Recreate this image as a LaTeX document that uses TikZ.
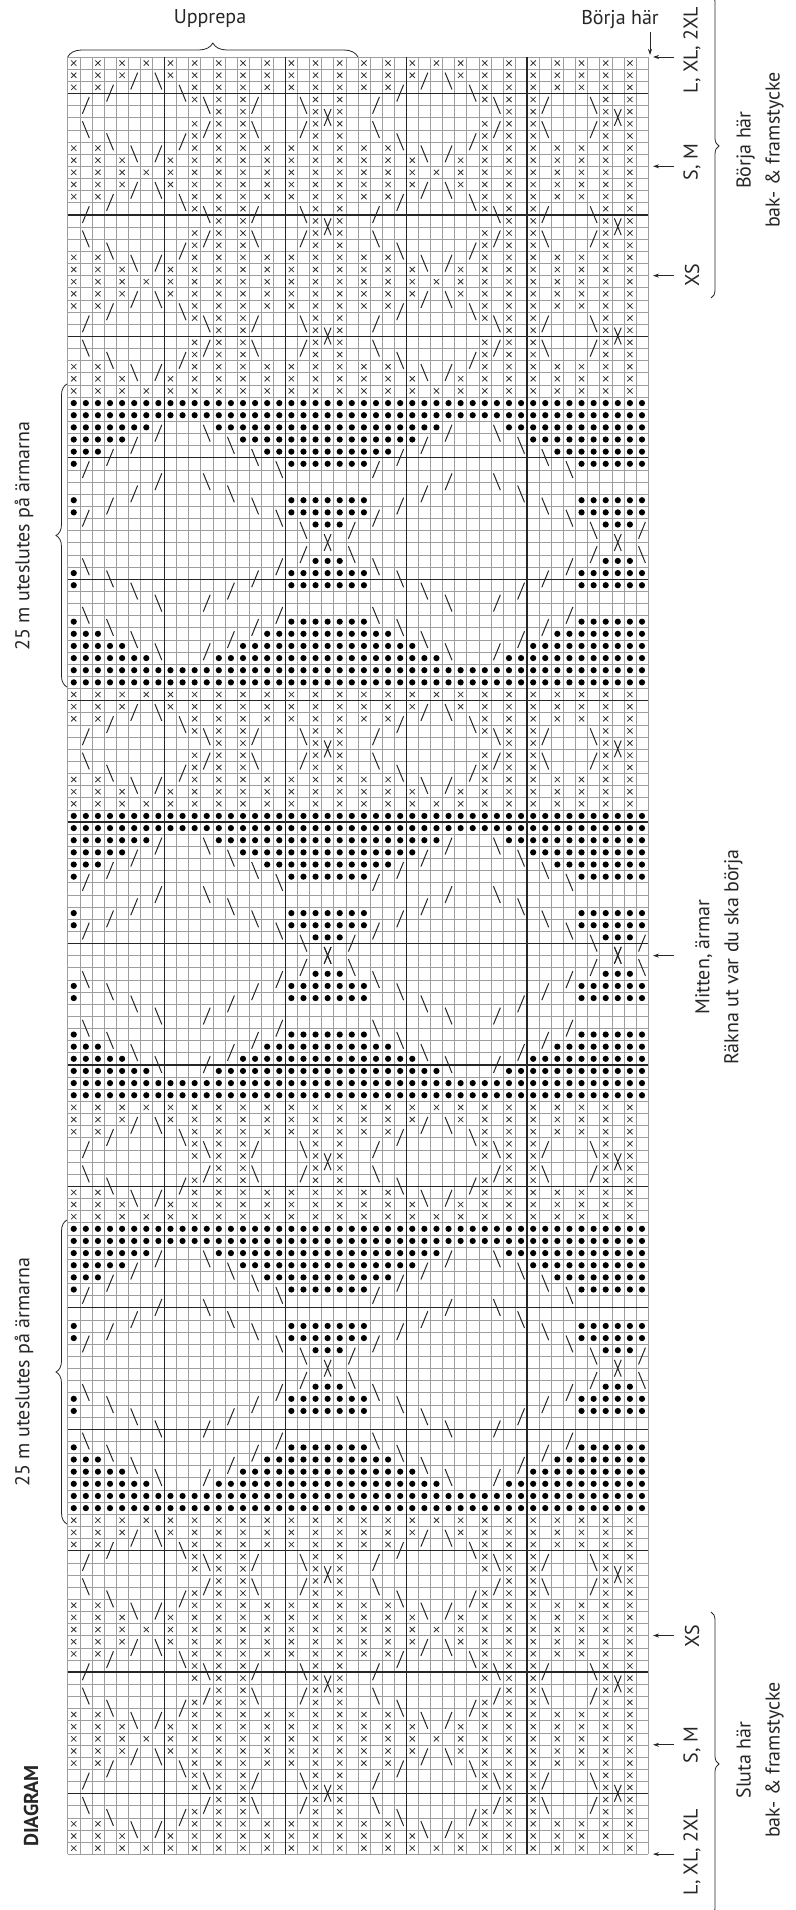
\documentclass[tikz,border=0pt]{standalone}
\usepackage{fontspec}
\setmainfont{PT Sans}
\usetikzlibrary{decorations.pathreplacing,arrows.meta}
\newcommand\cw{12.09}
\newcommand\rh{12.143}
\tikzset{
  kcx/.style={line width=0.8pt, black!80},
  kco/.style={fill=black},
  kcs/.style={line width=1.0pt, black!85},
  gridthin/.style={line width=0.5pt, black!38},
  gridthick/.style={line width=1.3pt, black!85},
  lbl/.style={font=\fontsize{20}{29}\selectfont, text=black!85, inner sep=0pt},
  arr/.style={-{Stealth[length=6pt,width=4pt]}, line width=0.9pt, black!85},
  brc/.style={decorate, decoration={brace, amplitude=#1}, line width=0.8pt, black!85},
}
\ExplSyntaxOn
\int_new:N \l_kc_col_int
\tl_new:N \l_kc_x_tl
\tl_new:N \l_kc_o_tl
\tl_new:N \l_kc_s_tl
\bool_new:N \l_kc_flip_bool
\cs_new_protected:Npn \kc_addx:nn #1 #2
 {
  \int_step_inline:nnnn {0}{24}{24}
   {
    \tl_put_right:Nx \l_kc_x_tl
     {
      ( \fp_eval:n {(#1+##1+0.5)*\cw-2.6} , \fp_eval:n {(#2+0.5)*\rh-2.6} ) --
      ( \fp_eval:n {(#1+##1+0.5)*\cw+2.6} , \fp_eval:n {(#2+0.5)*\rh+2.6} ) ~
      ( \fp_eval:n {(#1+##1+0.5)*\cw-2.6} , \fp_eval:n {(#2+0.5)*\rh+2.6} ) --
      ( \fp_eval:n {(#1+##1+0.5)*\cw+2.6} , \fp_eval:n {(#2+0.5)*\rh-2.6} ) ~
     }
   }
 }
\cs_new_protected:Npn \kc_addo:nn #1 #2
 {
  \int_step_inline:nnnn {0}{24}{24}
   {
    \tl_put_right:Nx \l_kc_o_tl
     { ( \fp_eval:n {(#1+##1+0.5)*\cw} , \fp_eval:n {(#2+0.5)*\rh} ) ~ circle ~ [radius=3.1pt] ~ }
   }
 }
\cs_new_protected:Npn \kc_adds:nnn #1 #2 #3
 {
  \int_step_inline:nnnn {0}{24}{24}
   {
    \str_if_eq:nnTF {#3}{u}
     {
      \tl_put_right:Nx \l_kc_s_tl
       { ( \fp_eval:n {(#1+##1)*\cw+2.6} , \fp_eval:n {(#2+2)*\rh-4} ) --
         ( \fp_eval:n {(#1+##1+1)*\cw-2.6} , \fp_eval:n {(#2)*\rh+3.5} ) ~ }
     }
     {
      \tl_put_right:Nx \l_kc_s_tl
       { ( \fp_eval:n {(#1+##1)*\cw+2.6} , \fp_eval:n {(#2)*\rh+3.5} ) --
         ( \fp_eval:n {(#1+##1+1)*\cw-2.6} , \fp_eval:n {(#2+2)*\rh-4} ) ~ }
     }
   }
 }
\cs_new_protected:Npn \kc_row:nn #1 #2
 {
  \tl_clear:N \l_kc_x_tl
  \tl_clear:N \l_kc_o_tl
  \tl_clear:N \l_kc_s_tl
  \int_zero:N \l_kc_col_int
  \str_map_inline:nn {#2}
   {
    \str_case:nn {##1}
     {
      {x}{ \kc_addx:nn {\int_use:N \l_kc_col_int}{#1} }
      {o}{ \kc_addo:nn {\int_use:N \l_kc_col_int}{#1} }
      {u}{ \bool_if:NTF \l_kc_flip_bool
            { \kc_adds:nnn {\int_use:N \l_kc_col_int}{\int_eval:n{#1-1}}{d} }
            { \kc_adds:nnn {\int_use:N \l_kc_col_int}{#1}{u} } }
      {d}{ \bool_if:NTF \l_kc_flip_bool
            { \kc_adds:nnn {\int_use:N \l_kc_col_int}{\int_eval:n{#1-1}}{u} }
            { \kc_adds:nnn {\int_use:N \l_kc_col_int}{#1}{d} } }
      {k}{ \bool_if:NTF \l_kc_flip_bool
            { \kc_adds:nnn {\int_use:N \l_kc_col_int}{\int_eval:n{#1-1}}{u}
              \kc_adds:nnn {\int_use:N \l_kc_col_int}{\int_eval:n{#1-1}}{d} }
            { \kc_adds:nnn {\int_use:N \l_kc_col_int}{#1}{u}
              \kc_adds:nnn {\int_use:N \l_kc_col_int}{#1}{d} } }
     }
    \int_incr:N \l_kc_col_int
   }
  \tl_if_empty:NF \l_kc_x_tl { \use:x { \exp_not:N \draw [kcx] \l_kc_x_tl ; } }
  \tl_if_empty:NF \l_kc_o_tl { \use:x { \exp_not:N \fill [kco] \l_kc_o_tl ; } }
  \tl_if_empty:NF \l_kc_s_tl { \use:x { \exp_not:N \draw [kcs] \l_kc_s_tl ; } }
 }
\NewDocumentCommand \kcrowm {mm}
 {
  \bool_set_false:N \l_kc_flip_bool
  \exp_args:Nxx \kc_row:nn { \int_eval:n {#1} } {#2}
  \bool_set_true:N \l_kc_flip_bool
  \exp_args:Nxx \kc_row:nn { \int_eval:n {147-(#1)} } {#2}
 }
\ExplSyntaxOff
% period-9 cable motif rows
\def\PZ{x.x.x.x.x.x.x.x.x.x.x.x.}
\def\PA{x.x.xu.dx.x.x.x.x.x.x.x.}
\def\PB{x.xu.....dx.x.x.x.x.x.x.}
\def\PC{.u........xdx.xu...dx.x.}
\def\PD{............x.x.....xkx.}
\def\PE{.d........xux.xd...ux.x.}
\def\PF{...d.....ux.x.x.....x.x.}
\def\PG{x.x..d.u..x.x.x.x.x.x.x.}
\def\PH{x.x.x...x.x.x.x.x.x.x.x.}
% dot band rows
\def\BA{oooooooooooooooooooooooo}
\def\BB{ooooooou...doooooooooooo}
\def\BC{ooooou.......doooooooooo}
\def\BD{ooou...........doooooooo}
\def\BE{ou...............doooooo}
\def\BF{.......u...d............}
\def\BG{.....u.......d..........}
\def\BH{o..u...........d..oooooo}
\def\BI{...................dooou}
\def\BJ{.....................k..}
\def\BK{...................u...d}
\def\BL{.d...............u..ooo.}
\def\BM{o..d...........u..oooooo}
\def\BN{o....d.......u....oooooo}
\def\BO{.......d...u............}
\def\BP{.d...............u......}
\def\BQ{ooo..d.......u..oooooooo}
\def\BR{ooooo..d...u..oooooooooo}
\def\BS{ooooooo.....oooooooooooo}
\newcommand\Pmotif[1]{%
  \kcrowm{#1}{\PZ}\kcrowm{#1+1}{\PA}\kcrowm{#1+2}{\PB}\kcrowm{#1+3}{\PC}%
  \kcrowm{#1+4}{\PD}\kcrowm{#1+5}{\PE}\kcrowm{#1+6}{\PF}\kcrowm{#1+7}{\PG}%
  \kcrowm{#1+8}{\PH}}
\newcommand\Bfirst[1]{%
  \kcrowm{#1}{\BA}\kcrowm{#1+1}{\BA}\kcrowm{#1+2}{\BB}\kcrowm{#1+3}{\BC}%
  \kcrowm{#1+4}{\BD}\kcrowm{#1+5}{\BE}\kcrowm{#1+6}{\BF}\kcrowm{#1+7}{\BG}%
  \kcrowm{#1+8}{\BH}\kcrowm{#1+9}{\BE}\kcrowm{#1+10}{\BI}\kcrowm{#1+11}{\BJ}}
\newcommand\Bsecond[1]{%
  \kcrowm{#1}{\BK}\kcrowm{#1+1}{\BL}\kcrowm{#1+2}{\BM}\kcrowm{#1+3}{\BN}%
  \kcrowm{#1+4}{\BO}\kcrowm{#1+5}{\BP}\kcrowm{#1+6}{\BM}\kcrowm{#1+7}{\BQ}%
  \kcrowm{#1+8}{\BR}\kcrowm{#1+9}{\BS}\kcrowm{#1+10}{\BA}\kcrowm{#1+11}{\BA}}
\begin{document}
\begin{tikzpicture}[x=1pt,y=-1pt]
\useasboundingbox (0,0) rectangle (795,1910);
\fill[white] (0,0) rectangle (795,1910);
\begin{scope}[shift={(67.7,57)}]
  \foreach \i in {0,...,48} \draw[gridthin] ({\i*\cw},0) -- ({\i*\cw},{148*\rh});
  \foreach \j in {0,...,148} \draw[gridthin] (0,{\j*\rh}) -- ({48*\cw},{\j*\rh});
  \foreach \i in {8,18,28,38} \draw[gridthick] ({\i*\cw},0) -- ({\i*\cw},{148*\rh});
  \foreach \j in {3,13,...,143} \draw[gridthick] (0,{\j*\rh}) -- ({48*\cw},{\j*\rh});
  % band A: stitches 0-27
  \Pmotif{0}\Pmotif{9}\Pmotif{18}\kcrowm{27}{\PZ}
  % band B: stitches 28-51
  \Bfirst{28}\Bsecond{40}
  % band C: stitches 52-61
  \Pmotif{52}\kcrowm{61}{\PZ}
  % band D: stitches 62-73 (mirrored to 74-85)
  \Bfirst{62}
\end{scope}
\node[lbl] (upp) at (210,19) {Upprepa};
\draw[brc=14pt] (67.7,57) -- (358.0,57);
\node[lbl] (bh) at (620,20) {Börja här};
\coordinate (bhs) at (650,32);
\coordinate (bhe) at (650,55);
\draw[arr] (bhs) -- (bhe);
\node[lbl,rotate=90] (sz1) at (692,50) {L, XL, 2XL};
\node[lbl,rotate=90] (sz2) at (692,162) {S, M};
\node[lbl,rotate=90] (sz3) at (692,275) {XS};
\node[lbl,rotate=90] (sz4) at (692,1636) {XS};
\node[lbl,rotate=90] (sz5) at (692,1745) {S, M};
\node[lbl,rotate=90] (sz6) at (692,1852) {L, XL, 2XL};
\foreach \yy/\nm in {57/a1,166.3/a2,275.6/a3,1635.5/a4,1744.8/a5,1854.1/a6,955.6/a7} {
  \coordinate (\nm s) at (674,\yy);
  \coordinate (\nm e) at (653,\yy);
  \draw[arr] (\nm s) -- (\nm e);
}
\draw[brc=8pt] (711,-6) -- (711,298);
\draw[brc=8pt] (711,1612) -- (711,1916);
\node[lbl,rotate=90,align=center] (bf1) at (760,150) {Börja här\\bak- \& framstycke};
\node[lbl,rotate=90,align=center] (bf2) at (760,1760) {Sluta här\\bak- \& framstycke};
\node[lbl,rotate=90,align=center] (mit) at (719,957) {Mitten, ärmar\\Räkna ut var du ska börja};
\draw[brc=11pt] (67,687) -- (67,384);
\draw[brc=11pt] (67,1524) -- (67,1220);
\node[lbl,rotate=90] (u1) at (24,536) {25 m uteslutes på ärmarna};
\node[lbl,rotate=90] (u2) at (24,1372) {25 m uteslutes på ärmarna};
\node[lbl,rotate=90,font=\bfseries\fontsize{20}{24}\selectfont] (dg) at (31,1806) {DIAGRAM};
\end{tikzpicture}
\end{document}
